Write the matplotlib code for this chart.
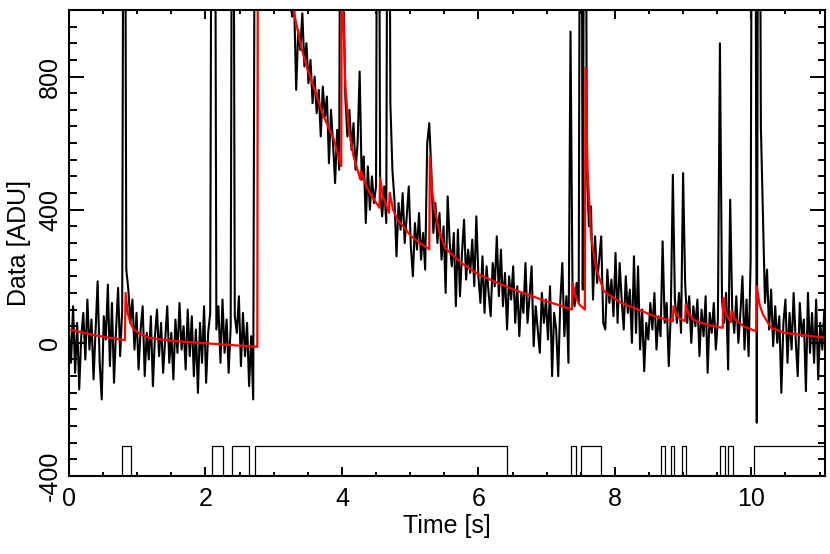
import numpy as np
import matplotlib
matplotlib.use('Agg')
import matplotlib.pyplot as plt
from matplotlib.ticker import MultipleLocator

plt.rcParams['font.family'] = ['Liberation Sans', 'DejaVu Sans']
plt.rcParams['axes.unicode_minus'] = False

# sampled data [ADU], one value every dt seconds
dt = 0.03
counts = [
    40, -60, 110, -90, 60, -140, 20, 90, -50, 130,            # 0.00
    -20, 70, -110, 40, 185, -60, -170, 80, 10, 175,           # 0.30
    -70, 120, -120, 40, 165, -40, 100, 2500, 220, 160,        # 0.60
    60, 130, -20, 90, -80, 40, 110, -100, 30, -50,            # 0.90
    80, -130, 20, 100, -40, 60, -90, 10, 110, -60,            # 1.20
    30, -110, 70, -30, 120, -20, 50, -80, 100, -40,           # 1.50
    80, -100, 40, -150, 60, -60, 110, -120, 30, 90,           # 1.80
    2500, 2500, 40, 110, -60, 130, -30, 70, -90, 50,          # 2.10
    2500, 80, 30, 140, -70, 90, -40, 60, -130, 20,            # 2.40
    -170, 2000, 1900, 1850, 1780, 1720, 1690, 1620, 1580, 1530,  # 2.70
    1480, 1430, 1390, 1340, 1300, 1260, 1200, 1120, 1040, 980,   # 3.00
    1020, 760, 940, 880, 990, 830, 900, 780, 850, 720,        # 3.30
    800, 690, 760, 620, 770, 680, 740, 540, 700, 600,         # 3.60
    480, 640, 520, 2500, 1100, 740, 620, 700, 580, 660,       # 3.90
    520, 600, 815, 490, 560, 360, 530, 400, 500, 420,         # 4.20
    470, 2500, 450, 380, 470, 360, 2500, 720, 520, 430,       # 4.50
    260, 420, 340, 450, 300, 380, 470, 290, 200, 360,         # 4.80
    280, 390, 250, 330, 220, 600, 660, 520, 330, 420,         # 5.10
    300, 390, 250, 350, 150, 440, 300, 230, 330, 110,         # 5.40
    340, 140, 270, 370, 190, 280, 210, 310, 170, 380,         # 5.70
    200, 120, 260, 90, 230, 150, 80, 240, 170, 320,           # 6.00
    140, 280, 110, 210, 40, 200, 130, 230, 60, 170,           # 6.30
    20, 150, 90, 240, 60, 140, 230, -10, 110, 40,             # 6.60
    -30, 150, 60, 130, 10, 170, -100, 90, 40, -100,           # 6.90
    120, 240, 20, 140, -60, 935, 150, 110, 180, 120,          # 7.20
    2500, 160, 2500, 520, 350, 410, 130, 320, 180, 250,       # 7.50
    320, 60, 40, 220, 120, 190, 80, 270, 60, 240,             # 7.80
    130, 40, 200, 90, 160, 0, 260, 30, 230, -20,              # 8.10
    100, -85, 60, 10, 120, 40, 150, -20, 80, 20,              # 8.40
    305, 60, 120, -70, 90, 505, 130, 60, 150, 30,             # 8.70
    510, 180, 60, 140, 0, 110, 50, 130, -40, 100,             # 9.00
    20, 140, -90, 90, 30, 120, -20, 70, 900, 130,             # 9.30
    60, 150, -80, 430, 100, 30, 140, 0, 90, 200,              # 9.60
    -20, 130, -40, 250, 2500, 2500, -240, 2500, 650, 380,     # 9.90
    120, 220, 40, 160, -10, 110, 0, 80, -150, 60,             # 10.20
    130, -60, 90, -20, 150, 10, -100, 120, 20, 70,            # 10.50
    -145, 150, -30, 90, -60, 130, -110, 60, -20, 100,         # 10.80
    -150,                                                     # 11.10
]

# fitted model (red)
model_time = [0.00, 0.40, 0.82, 0.83, 0.86, 0.90, 0.95, 1.05, 1.18, 1.50, 1.92,
              2.40, 2.76, 2.77, 3.10, 3.30, 3.40, 3.50, 3.58, 3.73, 3.88, 3.99,
              4.00, 4.02, 4.05, 4.10, 4.17, 4.27, 4.28, 4.35, 4.42, 4.55, 4.56,
              4.60, 4.69, 4.70, 4.75, 4.81, 4.90, 5.01, 5.14, 5.28, 5.29, 5.32,
              5.35, 5.42, 5.51, 5.75, 5.99, 6.25, 6.49, 6.75, 6.98, 7.20, 7.37,
              7.38, 7.42, 7.48, 7.56, 7.57, 7.60, 7.65, 7.73, 7.84, 8.09, 8.34,
              8.58, 8.85, 8.86, 8.90, 8.96, 9.03, 9.04, 9.08, 9.15, 9.24, 9.40,
              9.58, 9.59, 9.63, 9.70, 9.71, 9.76, 9.90, 10.07, 10.08, 10.12,
              10.17, 10.29, 10.49, 10.68, 11.10]
model_adu = [40, 22, 8, 150, 90, 60, 40, 26, 15, 6, 0,
             -7, -12, 1600, 1200, 990, 890, 820, 772, 681, 612, 531,
             1300, 1000, 772, 642, 561, 491, 516, 475, 446, 406, 496,
             440, 391, 451, 400, 371, 350, 321, 300, 281, 561, 460,
             411, 340, 285, 240, 207, 183, 162, 143, 126, 112, 100,
             180, 140, 115, 100, 827, 520, 320, 220, 155, 120, 100,
             80, 65, 110, 85, 72, 65, 115, 88, 70, 62, 52,
             45, 135, 85, 62, 95, 70, 48, 35, 170, 115,
             85, 45, 30, 25, 15]

# flagged intervals (bottom trace)
mask_on = [0.78, 2.10, 2.39, 2.73, 7.35, 7.51, 8.67, 8.82, 8.99, 9.54, 9.66, 10.04]
mask_off = [0.91, 2.25, 2.64, 6.42, 7.43, 7.80, 8.73, 8.87, 9.04, 9.61, 9.73, 11.20]
mask_low, mask_high = -400, -310


def mask_trace(on, off):
    mt, mv = [0.0], [mask_low]
    for a, b in zip(on, off):
        mt += [a, a, b, b]
        mv += [mask_low, mask_high, mask_high, mask_low]
    return mt, mv


time = np.arange(len(counts)) * dt
mt, mv = mask_trace(mask_on, mask_off)

fig = plt.figure(figsize=(8.3, 5.54), dpi=100)
ax = fig.add_axes([0.0831, 0.1408, 0.9109, 0.8412])

ax.plot(time, counts, color='black', lw=1.5)
ax.plot(model_time, model_adu, color='red', lw=1.6)
ax.plot(mt, mv, color='black', lw=0.9)

ax.set_xlim(0, 11.08)
ax.set_ylim(-400, 1000)
ax.xaxis.set_major_locator(MultipleLocator(2))
ax.xaxis.set_minor_locator(MultipleLocator(0.5))
ax.yaxis.set_major_locator(MultipleLocator(400))
ax.yaxis.set_minor_locator(MultipleLocator(50))

for s in ax.spines.values():
    s.set_linewidth(1.5)
ax.tick_params(which='both', direction='in', top=True, right=True, width=1.4)
ax.tick_params(axis='x', which='major', length=6.5, pad=8, labelsize=18)
ax.tick_params(axis='x', which='minor', length=3.2)
ax.tick_params(axis='y', which='major', length=10.8, pad=5, labelsize=18)
ax.tick_params(axis='y', which='minor', length=5.4)
for lab in ax.get_yticklabels():
    lab.set_rotation(90)
    lab.set_va('center')

ax.set_xlabel('Time [s]', fontsize=18, labelpad=2)
ax.set_ylabel('Data [ADU]', fontsize=18)
ax.yaxis.set_label_coords(-0.05, 0.5)

fig.savefig('out.png', dpi=100)
